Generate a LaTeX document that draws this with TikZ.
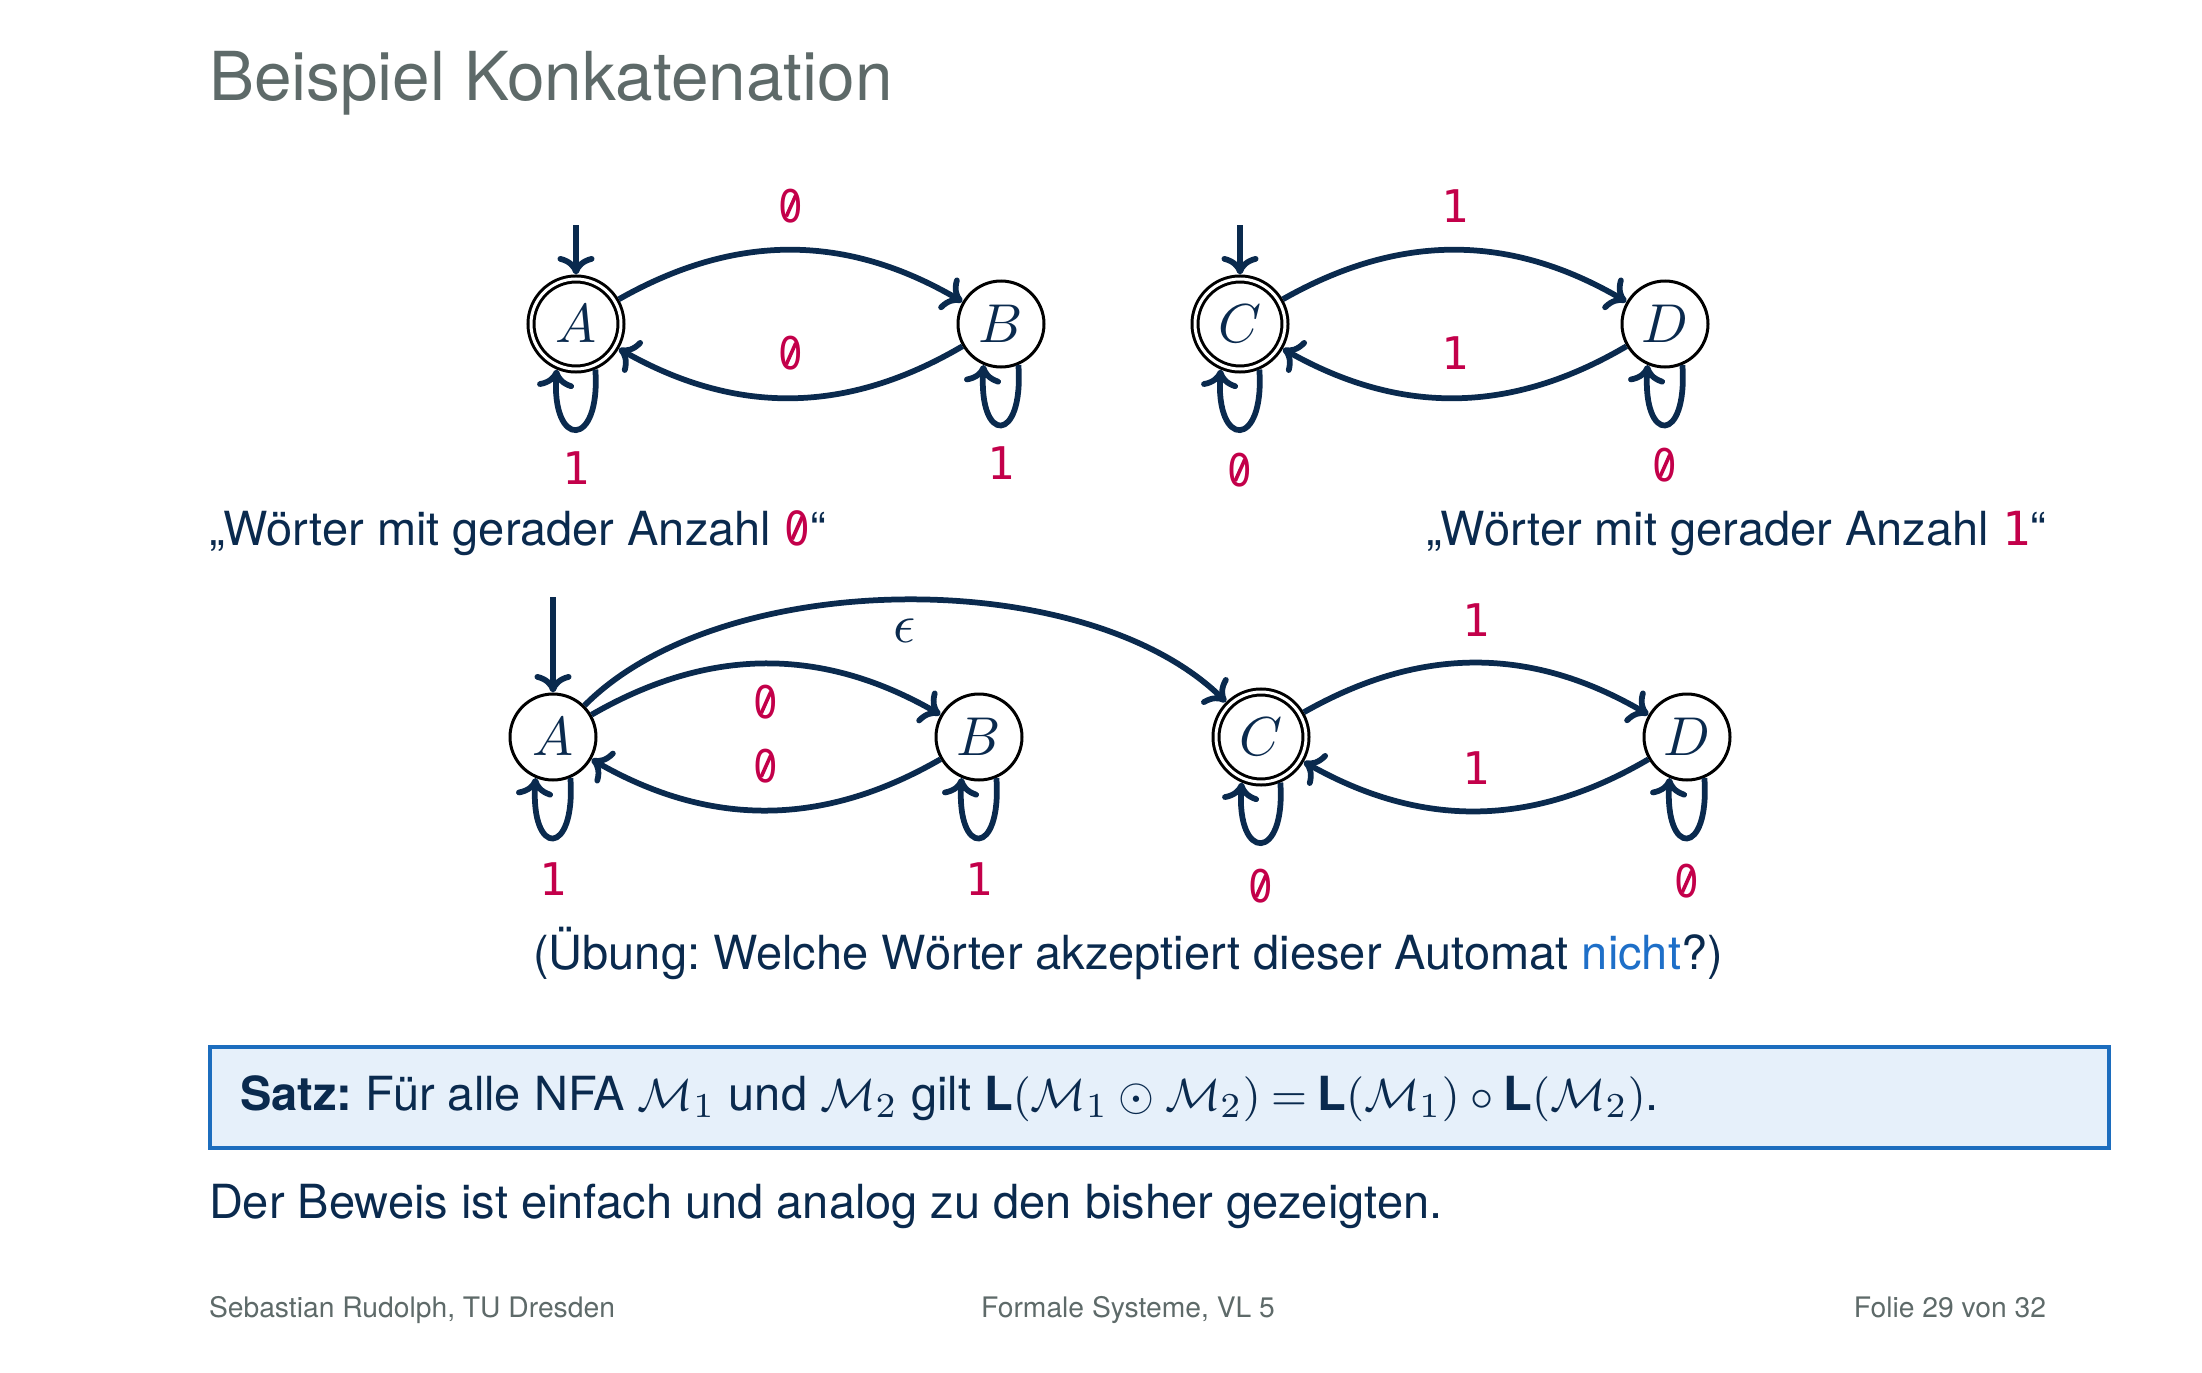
\documentclass[tikz,border=0pt]{standalone}
\usepackage{fontspec}
\setmainfont{TeX Gyre Heros}
\newfontfamily\digitfont{DejaVu Sans Mono}
\newfontfamily\zfont{DejaVu Sans}
\usetikzlibrary{arrows.meta}
\frenchspacing

\definecolor{navy}{HTML}{0A2A4E}
\definecolor{slidegray}{HTML}{5E6A69}
\definecolor{symcol}{HTML}{C3004A}
\definecolor{hlblue}{HTML}{1E6FC8}
\definecolor{boxfill}{HTML}{E6F0FA}
\definecolor{boxline}{HTML}{1C6DBE}

% slashed zero: narrow plain oval digit with a short stroke inside
\newcommand{\zsl}{{\zfont\ooalign{\scalebox{0.86}[1]{0}\cr\hidewidth\raisebox{0.36em}{\rotatebox[origin=c]{-24}{\rule[-0.26em]{0.08em}{0.52em}}}\hidewidth\cr}}}
\newcommand{\sym}[1]{{\digitfont\color{symcol}#1}}

\tikzset{
  state/.style={circle, draw=black, line width=0.6pt, minimum size=17.2pt,
    inner sep=0pt, outer sep=0.3pt, text=navy, font=\fontsize{10.7}{12}\selectfont},
  accepting/.style={state, minimum size=18pt, double, double distance=0.6pt, outer sep=0.9pt},
  trans/.style={draw=navy, line width=1.15pt,
    -{Computer Modern Rightarrow[length=3.7pt,width=7.4pt]}},
  lbl/.style={text=symcol, font=\digitfont\fontsize{9}{10}\selectfont, inner sep=0pt, anchor=base},
  body/.style={text=navy, font=\fontsize{9.4}{11}\selectfont, inner sep=0pt},
  foot/.style={text=slidegray, font=\fontsize{5.65}{7}\selectfont, inner sep=0pt},
}

\begin{document}
\begin{tikzpicture}[x=0.2pt, y=0.2pt]
\useasboundingbox (0,0) rectangle (2202,-1373);

% slide title
\node[text=slidegray, font=\fontsize{13.5}{16}\selectfont, inner sep=0pt, anchor=base west]
  (title) at (208,-101) {Beispiel Konkatenation};

% --- first automaton: even number of 0 ---
\node[accepting] (A1) at (576,-324) {$A$};
\node[state]     (B1) at (1001,-324) {$B$};
\coordinate (iA1) at (576,-225);
\draw[trans] (iA1) -- (A1);
\draw[trans] (A1) to[bend left=30] node[lbl, midway, yshift=5.6pt] {\zsl} (B1);
\draw[trans] (B1) to[bend left=30] node[lbl, midway, yshift=5.6pt] {\zsl} (A1);
\draw[trans] (A1.-67) .. controls +(-86:80) and +(-94:80) .. node[lbl, midway, yshift=-11pt] {1} (A1.-113);
\draw[trans] (B1.-67) .. controls +(-86:80) and +(-94:80) .. node[lbl, midway, yshift=-11pt] {1} (B1.-113);

% --- second automaton: even number of 1 ---
\node[accepting] (C1) at (1240,-324) {$C$};
\node[state]     (D1) at (1665,-324) {$D$};
\coordinate (iC1) at (1240,-225);
\draw[trans] (iC1) -- (C1);
\draw[trans] (C1) to[bend left=30] node[lbl, midway, yshift=5.6pt] {1} (D1);
\draw[trans] (D1) to[bend left=30] node[lbl, midway, yshift=5.6pt] {1} (C1);
\draw[trans] (C1.-67) .. controls +(-86:80) and +(-94:80) .. node[lbl, midway, yshift=-11.4pt] {\zsl} (C1.-113);
\draw[trans] (D1.-67) .. controls +(-86:80) and +(-94:80) .. node[lbl, midway, yshift=-11.4pt] {\zsl} (D1.-113);

% captions
\node[body, anchor=base west] (capL) at (208,-545) {„Wörter mit gerader Anzahl \sym{\zsl}“};
\node[body, anchor=base east] (capR) at (2047,-545) {„Wörter mit gerader Anzahl \sym{1}“};

% --- concatenated automaton ---
\node[state]     (A2) at (553,-737) {$A$};
\node[state]     (B2) at (979,-737) {$B$};
\node[accepting] (C2) at (1261,-737) {$C$};
\node[state]     (D2) at (1687,-737) {$D$};
\coordinate (iA2) at (553,-597);
\draw[trans] (iA2) -- (A2);
\draw[trans] (A2) to[bend left=45, looseness=0.78]
  node[midway, yshift=-6.2pt, text=navy, font=\fontsize{11}{12}\selectfont, inner sep=0pt] {$\epsilon$} (C2);
\draw[trans] (A2) to[bend left=30] node[lbl, midway, yshift=-11pt] {\zsl} (B2);
\draw[trans] (B2) to[bend left=30] node[lbl, midway, yshift=5.6pt] {\zsl} (A2);
\draw[trans] (C2) to[bend left=30] node[lbl, midway, yshift=5.2pt] {1} (D2);
\draw[trans] (D2) to[bend left=30] node[lbl, midway, yshift=5.4pt] {1} (C2);
\draw[trans] (A2.-67) .. controls +(-86:80) and +(-94:80) .. node[lbl, midway, yshift=-11.6pt] {1} (A2.-113);
\draw[trans] (B2.-67) .. controls +(-86:80) and +(-94:80) .. node[lbl, midway, yshift=-11.6pt] {1} (B2.-113);
\draw[trans] (C2.-67) .. controls +(-86:80) and +(-94:80) .. node[lbl, midway, yshift=-12pt] {\zsl} (C2.-113);
\draw[trans] (D2.-67) .. controls +(-86:80) and +(-94:80) .. node[lbl, midway, yshift=-12pt] {\zsl} (D2.-113);

\node[body, anchor=base] (ex) at (1128,-969)
  {(Übung: Welche Wörter akzeptiert dieser Automat \textcolor{hlblue}{nicht}?)};

% theorem box
\node[draw=boxline, fill=boxfill, line width=0.7pt, anchor=north west, inner sep=0pt,
  minimum width=379.8pt, minimum height=20.2pt] (box) at (208,-1045) {};
\node[body, anchor=base west] (satz) at (239,-1110)
  {\textbf{Satz:} Für alle NFA $\mathcal{M}_1$ und $\mathcal{M}_2$ gilt
   $\textbf{L}(\mathcal{M}_1\mathbin{\odot}\mathcal{M}_2)\mskip4mu{=}\mskip4mu\textbf{L}(\mathcal{M}_1)\circ\textbf{L}(\mathcal{M}_2)$.};

\node[body, anchor=base west] (proof) at (208,-1218)
  {Der Beweis ist einfach und analog zu den bisher gezeigten.};

% footer
\node[foot, anchor=base west] (fl) at (208,-1317) {Sebastian Rudolph, TU Dresden};
\node[foot, anchor=base] (fc) at (1128,-1317) {Formale Systeme, VL 5};
\node[foot, anchor=base east] (fr) at (2047,-1317) {Folie 29 von 32};
\end{tikzpicture}
\end{document}
